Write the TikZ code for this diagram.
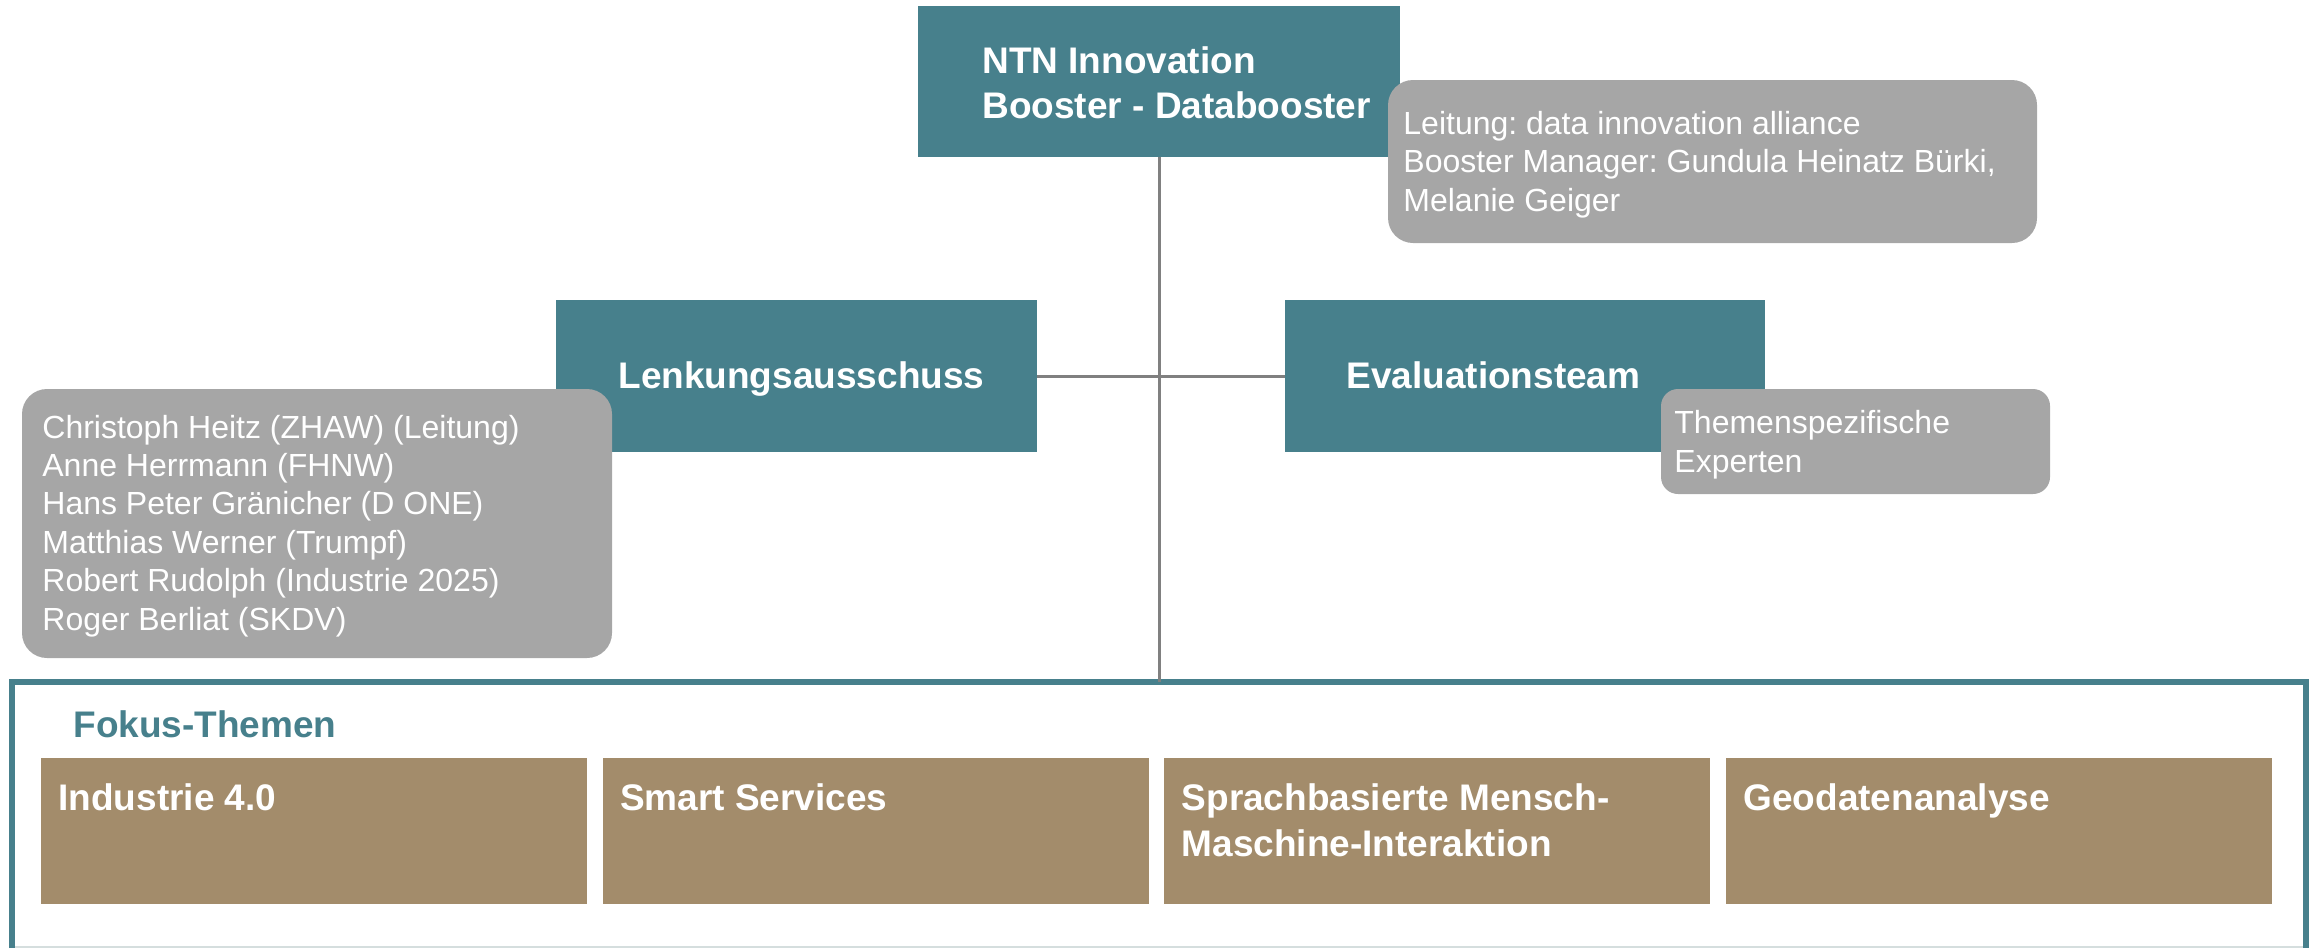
\documentclass[tikz,border=0pt]{standalone}
\usepackage{fontspec}
\setmainfont{Liberation Sans}
\frenchspacing
\definecolor{tealc}{HTML}{47808C}
\definecolor{grayc}{HTML}{A6A6A6}
\definecolor{tanc}{HTML}{A38C6B}
\definecolor{connc}{HTML}{808080}
\definecolor{lightc}{HTML}{D5DEDE}
\begin{document}
\begin{tikzpicture}[x=0.5pt,y=-0.5pt,
  box/.style={draw=none, inner sep=0pt, outer sep=0pt, anchor=north west},
  tealbox/.style={box, fill=tealc, minimum width=#1, minimum height=76pt},
  graybox/.style={box, fill=grayc},
  tanbox/.style={box, fill=tanc, minimum width=273pt, minimum height=73pt},
  boldtxt/.style={anchor=base west, inner sep=0pt, align=left, text=white, font=\bfseries\fontsize{18.5}{22.5}\selectfont},
  tantxt/.style={boldtxt, font=\bfseries\fontsize{18.5}{23}\selectfont},
  graytxt/.style={anchor=base west, inner sep=0pt, align=left, text=white, font=\fontsize{16}{#1}\selectfont},
  conn/.style={draw=connc, line width=1.5pt}
]
\useasboundingbox (0,0) rectangle (2310,948);
% frame
\coordinate (ftl) at (12,682);
\coordinate (ftr) at (2306,682);
\coordinate (fbl) at (12,948);
\coordinate (fbr) at (2306,948);
\draw[lightc, line width=1pt] (12,947) -- (2306,947);
\draw[tealc, line width=3pt] (fbl) -- (ftl) -- (ftr) -- (fbr);
\coordinate (ftop) at (1159,682);
% boxes
\node[tealbox=241pt, minimum height=75.5pt] (ntn) at (918,6) {};
\node[tealbox=240.5pt] (lenk) at (556,300) {};
\node[tealbox=240pt] (eval) at (1285,300) {};
% connectors
\draw[conn] (ntn.south) -- (ntn.south |- ftop);
\draw[conn] (lenk.east) -- (eval.west);
% titles (multi-line nodes are placed by the baseline of their last line)
\node[boldtxt] (ntntxt) at (982,118) {NTN Innovation\\Booster - Databooster};
\node[boldtxt] (lenktxt) at (618,388) {Lenkungsausschuss};
\node[boldtxt] (evaltxt) at (1346,388) {Evaluationsteam};
% gray boxes
\node[graybox, minimum width=324.5pt, minimum height=81.5pt, rounded corners=12.5pt] (g1) at (1388,80) {};
\node[graytxt=19.25pt] (g1txt) at (1403,211) {Leitung: data innovation alliance\\Booster Manager: Gundula Heinatz Bürki,\\Melanie Geiger};
\node[graybox, minimum width=295pt, minimum height=134.5pt, rounded corners=12.5pt] (g2) at (22,389) {};
\node[graytxt=19.2pt] (g2txt) at (42,630) {Christoph Heitz (ZHAW) (Leitung)\\Anne Herrmann (FHNW)\\Hans Peter Gränicher (D ONE)\\Matthias Werner (Trumpf)\\Robert Rudolph (Industrie 2025)\\Roger Berliat (SKDV)};
\node[graybox, minimum width=194.5pt, minimum height=52.5pt, rounded corners=8.5pt] (g3) at (1661,389) {};
\node[graytxt=19.5pt] (g3txt) at (1674,472) {Themenspezifische\\Experten};
% focus
\node[anchor=base west, inner sep=0pt, text=tealc, font=\bfseries\fontsize{18.5}{21}\selectfont] (fokus) at (73,737) {Fokus-Themen};
\node[tanbox] (t1) at (41,758) {};
\node[tanbox] (t2) at (602.7,758) {};
\node[tanbox] (t3) at (1164.3,758) {};
\node[tanbox] (t4) at (1726,758) {};
\node[tantxt] (t1txt) at (58,810) {Industrie 4.0};
\node[tantxt] (t2txt) at (619.7,810) {Smart Services};
\node[tantxt] (t3txt) at (1181.3,856) {Sprachbasierte Mensch-\\Maschine-Interaktion};
\node[tantxt] (t4txt) at (1743,810) {Geodatenanalyse};
\end{tikzpicture}
\end{document}
